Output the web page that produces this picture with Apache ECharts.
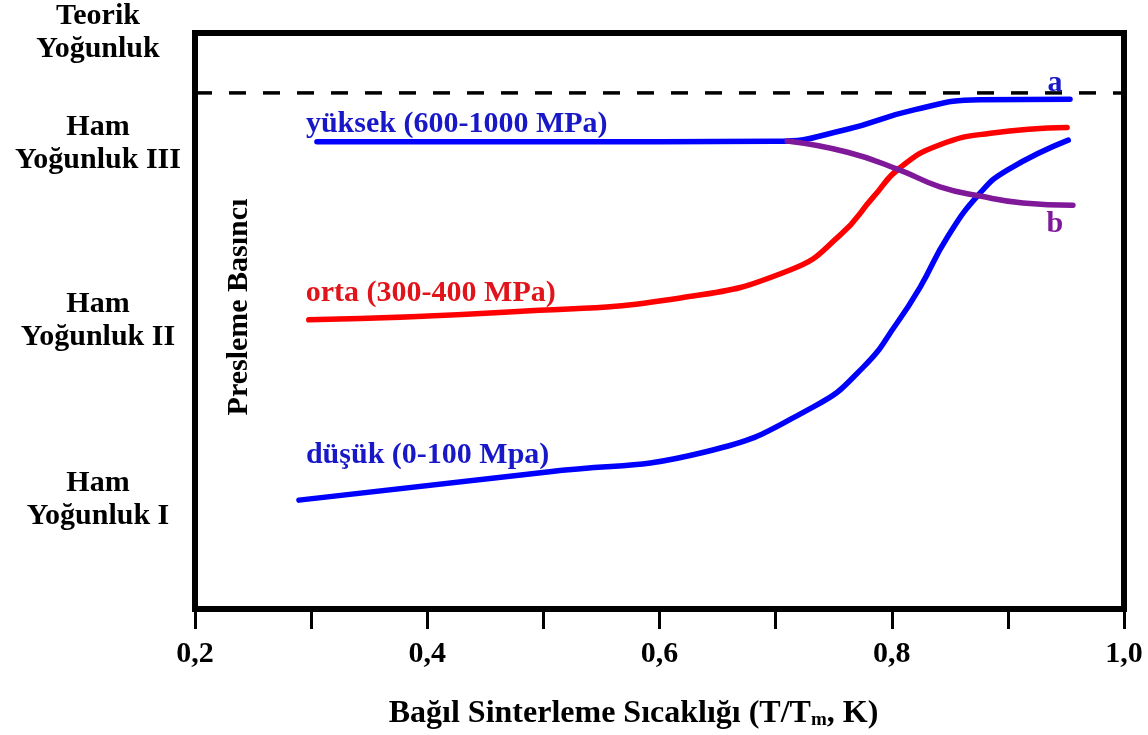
<!DOCTYPE html>
<html>
<head>
<meta charset="utf-8">
<script src="https://cdn.jsdelivr.net/npm/echarts@6/dist/echarts.min.js"></script>
<style>
html,body{margin:0;padding:0;background:#fff;}
#chart{width:1148px;height:735px;}
</style>
</head>
<body>
<div id="chart"></div>
<script>
// ---- data (relative sintering temperature vs. density, arbitrary density units) ----
const xHigh = [0.305, 0.500, 0.700, 0.760, 0.820, 0.876, 0.9535];
const yHigh = [81.1, 81.1, 81.2, 83.2, 86.7, 88.4, 88.5];

const xMid = [0.298, 0.474, 0.618, 0.713, 0.7555, 0.784, 0.807, 0.8415, 0.885, 0.951];
const yMid = [50.2, 51.6, 54.0, 58.9, 64.9, 71.5, 76.6, 80.6, 82.6, 83.6];

const xLow = [0.2895, 0.5035, 0.640, 0.7325, 0.7755, 0.8047, 0.8245, 0.848, 0.876, 0.8995, 0.952];
const yLow = [18.9, 23.8, 27.3, 35.1, 42.0, 49.7, 55.9, 64.6, 72.2, 76.2, 81.4];

const xB = [0.710, 0.762, 0.807, 0.8415, 0.876, 0.913, 0.956];
const yB = [81.25, 79.3, 76.2, 73.3, 71.7, 70.5, 70.1];

const theoreticalDensity = 89.6;
const xRange = [0.2, 1.0];

const yLevelValues = [18.9, 50, 80.7, 100];
const yLevelLabels = ['Ham\nYoğunluk I', 'Ham\nYoğunluk II', 'Ham\nYoğunluk III', 'Teorik\nYoğunluk'];

const labelHigh = 'yüksek (600-1000 MPa)';
const labelMid = 'orta (300-400 MPa)';
const labelLow = 'düşük (0-100 Mpa)';
const labelA = 'a';
const labelB = 'b';
const yAxisTitle = 'Presleme Basıncı';

// ---- build ----
const FONT = '"Liberation Serif", "Times New Roman", serif';
function pts(xs, ys) { return xs.map((x, i) => [x, ys[i]]); }
function withLabels(data, specs) {
  return data.map((p, i) => {
    const s = specs[i];
    if (!s) return { value: p };
    return {
      value: p,
      label: Object.assign({
        show: true, position: 'inside', fontFamily: FONT, fontWeight: 'bold',
        fontSize: 30, verticalAlign: 'middle'
      }, s)
    };
  });
}
function lineSeries(data, color, z) {
  return {
    type: 'line', data: data, smooth: 0.5,
    symbol: 'circle', symbolSize: 0.1, showSymbol: true, z: z,
    itemStyle: { color: color },
    lineStyle: { color: color, width: 5.5, cap: 'round', join: 'round' },
    label: { show: false },
    animation: false, silent: true
  };
}

const highData = pts(xHigh, yHigh);
const midData = pts(xMid, yMid);
const lowData = pts(xLow, yLow);
const bData = pts(xB, yB);

const highSpecs = {};
highSpecs[0] = { formatter: labelHigh, color: '#1818C8', align: 'left', offset: [-11, -18] };
highSpecs[highData.length - 1] = { formatter: labelA, color: '#1818C8', align: 'center', offset: [-15, -16] };
const midSpecs = { 0: { formatter: labelMid, color: '#E0141A', align: 'left', offset: [-3, -27] } };
const lowSpecs = { 0: { formatter: labelLow, color: '#1818C8', align: 'left', offset: [7, -45] } };
const bSpecs = {};
bSpecs[bData.length - 1] = { formatter: labelB, color: '#80189A', align: 'center', offset: [-18, 19] };

const chart = echarts.init(document.getElementById('chart'), null, { renderer: 'canvas' });
chart.setOption({
  backgroundColor: '#ffffff',
  animation: false,
  grid: {
    left: 195, right: 24, top: 33, bottom: 125,
    show: true, borderColor: '#000', borderWidth: 6, backgroundColor: 'transparent'
  },
  xAxis: {
    type: 'value', min: xRange[0], max: xRange[1], interval: 0.1,
    axisLine: { show: false },
    splitLine: { show: false },
    axisTick: { show: true, inside: false, length: 20, lineStyle: { color: '#000', width: 3 } },
    axisLabel: {
      margin: 30, color: '#000', fontFamily: FONT, fontWeight: 'bold', fontSize: 30,
      showMinLabel: true, showMaxLabel: true,
      formatter: function (v) {
        const k = Math.round(v * 10);
        return k % 2 === 0 ? (k / 10).toFixed(1).replace('.', ',') : '';
      }
    },
    name: '{a|Bağıl Sinterleme Sıcaklığı (T/T}{s|m}{a|, K)}',
    nameLocation: 'middle', nameGap: 88,
    nameTextStyle: {
      padding: [0, 52, 0, 0],
      rich: {
        a: { fontFamily: FONT, fontWeight: 'bold', fontSize: 32, color: '#000' },
        s: { fontFamily: FONT, fontWeight: 'bold', fontSize: 19, color: '#000', verticalAlign: 'bottom', padding: [14, 0, 0, 0] }
      }
    }
  },
  yAxis: {
    type: 'value', min: 0, max: 100,
    axisLine: { show: false }, axisTick: { show: false }, splitLine: { show: false },
    axisLabel: {
      customValues: yLevelValues, showMinLabel: true, showMaxLabel: true,
      align: 'center', margin: 97, lineHeight: 33,
      color: '#000', fontFamily: FONT, fontWeight: 'bold', fontSize: 30,
      formatter: function (v) {
        let best = 0;
        yLevelValues.forEach((y, i) => { if (Math.abs(y - v) < Math.abs(yLevelValues[best] - v)) best = i; });
        return yLevelLabels[best];
      }
    },
    name: yAxisTitle, nameLocation: 'middle', nameRotate: 90, nameGap: -59,
    nameTextStyle: { fontFamily: FONT, fontWeight: 'bold', fontSize: 30, color: '#000', padding: [0, 0, 0, 28] }
  },
  series: [
    {
      type: 'line', data: [[xRange[0], theoreticalDensity], [xRange[1], theoreticalDensity]],
      symbol: 'none', z: 1, silent: true, animation: false,
      lineStyle: { color: '#000', width: 3.5, type: [17, 17] }
    },
    lineSeries(withLabels(highData, highSpecs), '#0000FF', 2),
    lineSeries(withLabels(midData, midSpecs), '#FF0000', 3),
    lineSeries(withLabels(lowData, lowSpecs), '#0000FF', 4),
    lineSeries(withLabels(bData, bSpecs), '#80189A', 5)
  ]
});
</script>
</body>
</html>
